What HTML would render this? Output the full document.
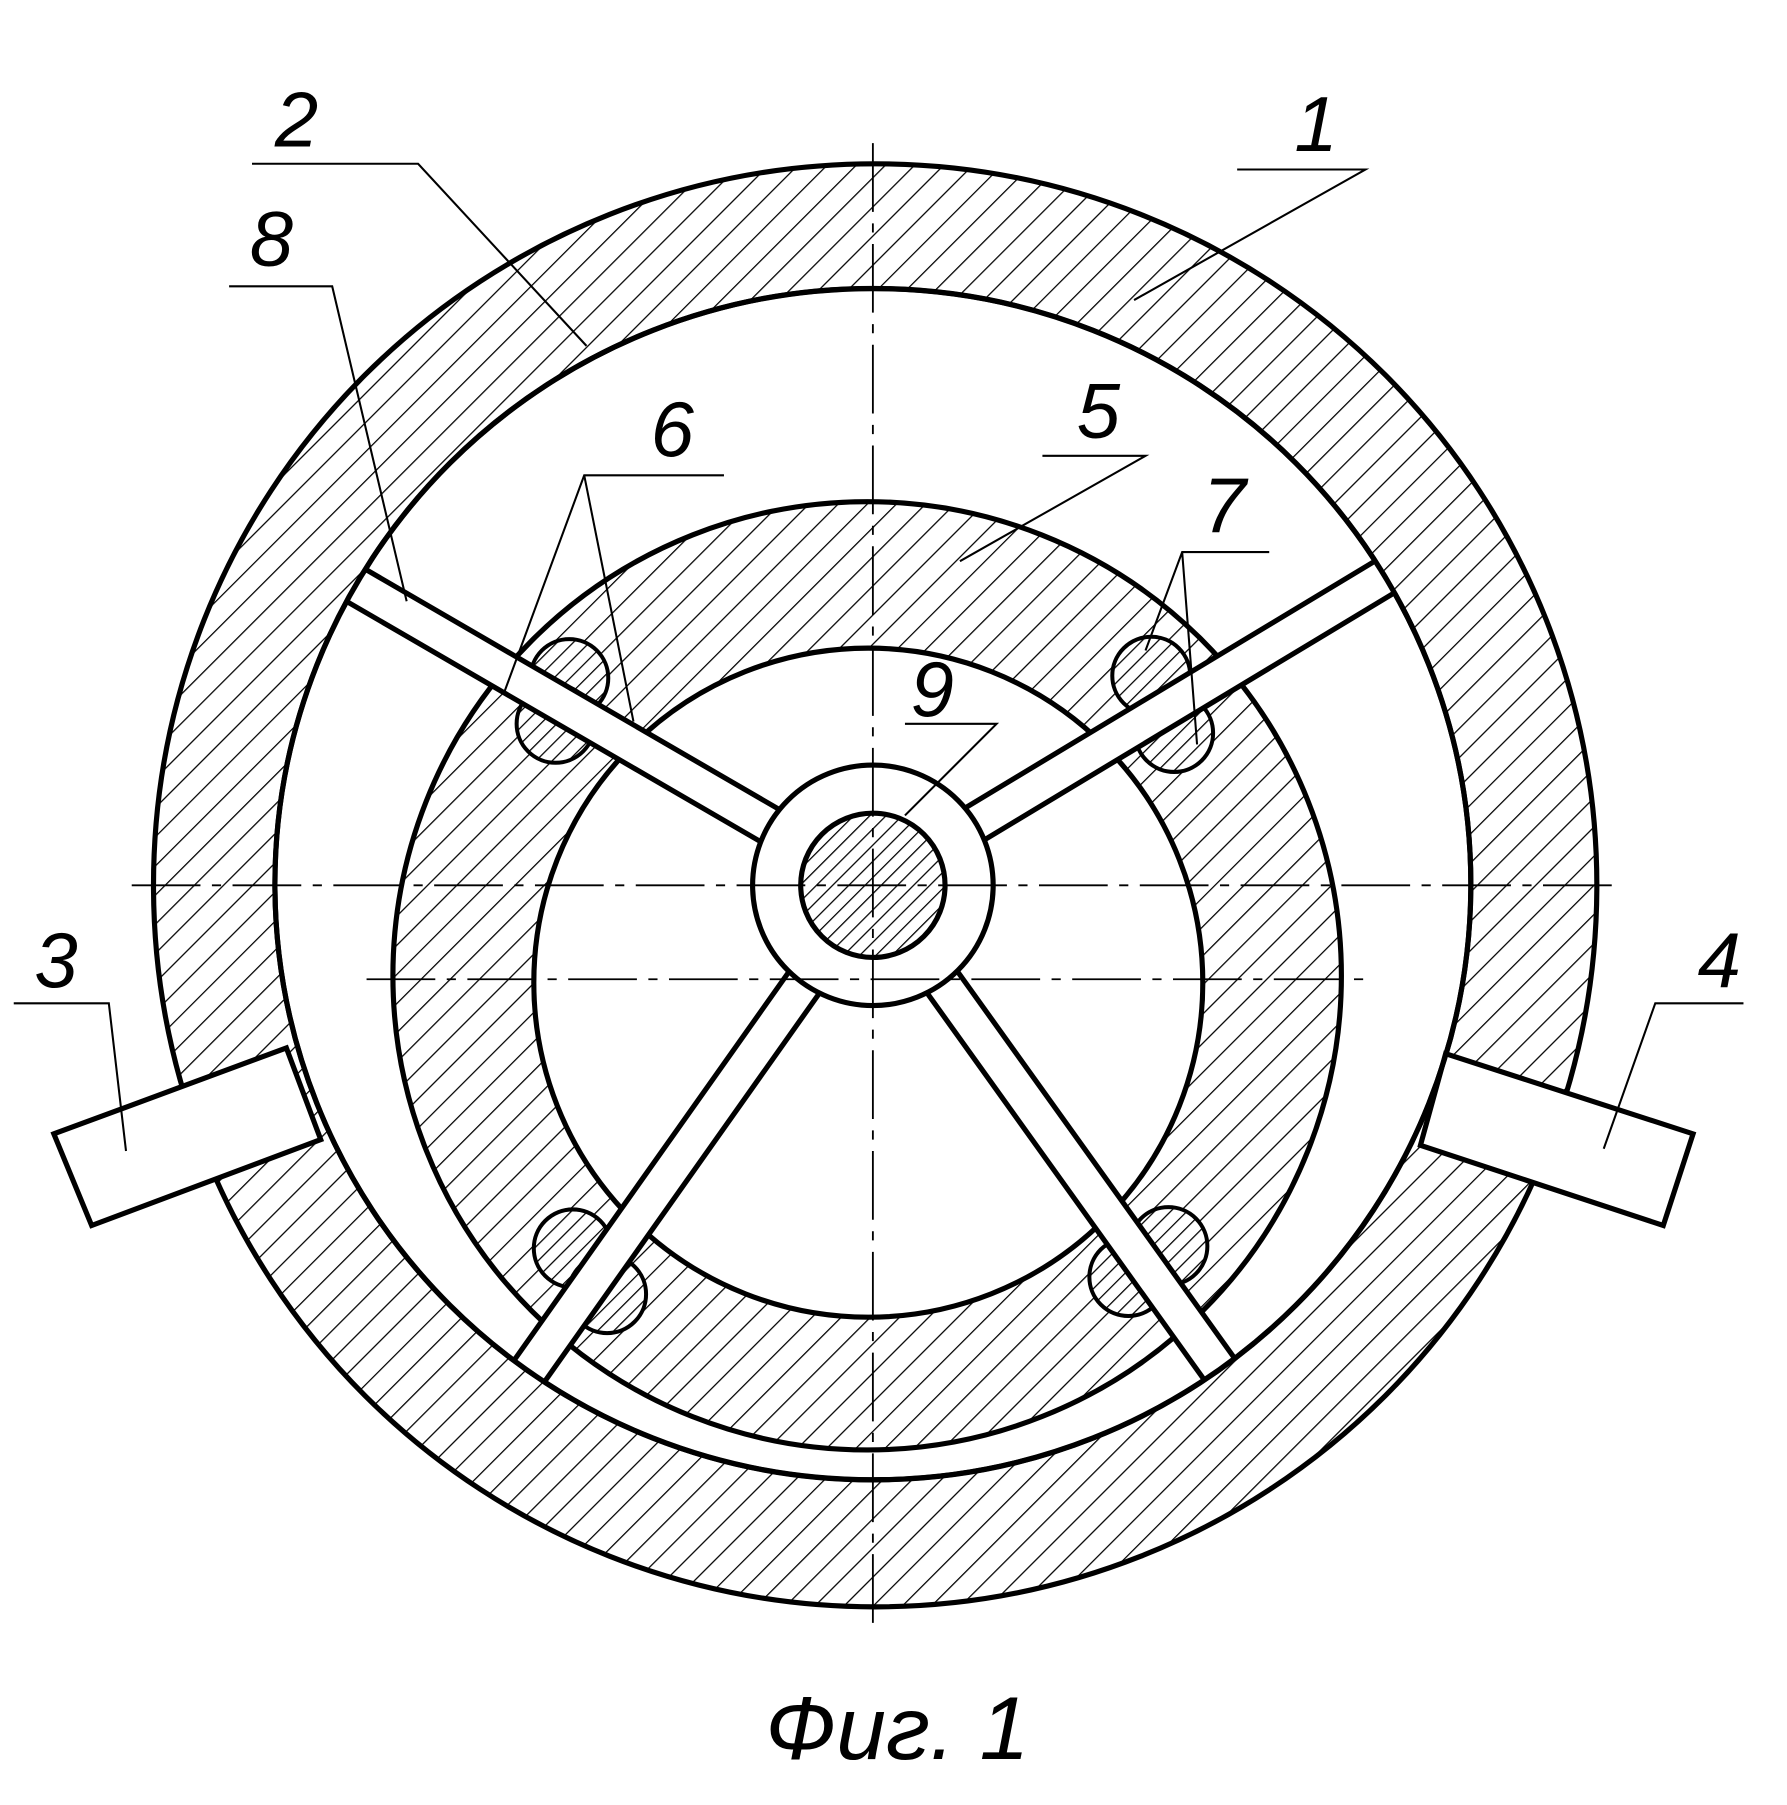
<!DOCTYPE html>
<html><head><meta charset="utf-8"><style>html,body{margin:0;padding:0;background:#fff}svg{display:block}</style></head>
<body>
<svg width="1787" height="1805" viewBox="0 0 1560 1576" preserveAspectRatio="none" xmlns="http://www.w3.org/2000/svg">
<defs>
<pattern id="h" patternUnits="userSpaceOnUse" width="18" height="18" patternTransform="rotate(45)">
<rect width="18" height="18" fill="#fff"/><line x1="0" y1="0" x2="0" y2="18" stroke="#000" stroke-width="2.2"/></pattern>
<pattern id="h2" patternUnits="userSpaceOnUse" width="10" height="10" patternTransform="rotate(45)">
<rect width="10" height="10" fill="#fff"/><line x1="0" y1="0" x2="0" y2="10" stroke="#000" stroke-width="2.2"/></pattern>
<clipPath id="bore"><ellipse cx="762" cy="772" rx="522" ry="520"/></clipPath>
</defs>
<g stroke="#000" stroke-width="4.5">
<path fill="url(#h)" fill-rule="evenodd" d="M134,773a630,630 0 1,0 1260,0a630,630 0 1,0 -1260,0Z M240,772a522,520 0 1,0 1044,0a522,520 0 1,0 -1044,0Z"/>
<polygon fill="#fff" points="47,990 250,915 280,995 80,1070"/>
<polygon fill="#fff" points="1262,920 1478,990 1452,1070 1240,1000"/>
<path fill="url(#h)" fill-rule="evenodd" d="M343,852a414,414 0 1,0 828,0a414,414 0 1,0 -828,0Z M466,858a292,292 0 1,0 584,0a292,292 0 1,0 -584,0Z"/>
<g fill="url(#h2)" stroke-width="3.5">
<circle cx="497" cy="592" r="34"/><circle cx="485" cy="632" r="34"/>
<circle cx="1005" cy="590" r="34"/><circle cx="1025" cy="640" r="34"/>
<circle cx="500" cy="1090" r="34"/><circle cx="530" cy="1130" r="34"/>
<circle cx="985" cy="1115" r="34"/><circle cx="1020" cy="1088" r="34"/>
</g>
</g>
<g clip-path="url(#bore)">
<g stroke="#000" stroke-width="37">
<line x1="762" y1="773" x2="290" y2="499"/><line x1="762" y1="773" x2="1225" y2="494"/>
<line x1="762" y1="773" x2="448" y2="1217"/><line x1="762" y1="773" x2="1075" y2="1210"/>
</g>
<g stroke="#fff" stroke-width="28">
<line x1="762" y1="773" x2="290" y2="499"/><line x1="762" y1="773" x2="1225" y2="494"/>
<line x1="762" y1="773" x2="448" y2="1217"/><line x1="762" y1="773" x2="1075" y2="1210"/>
</g>
</g>
<ellipse cx="762" cy="772" rx="522" ry="520" fill="none" stroke="#000" stroke-width="4.5"/>
<circle cx="762" cy="773" r="105" fill="#fff" stroke="#000" stroke-width="4.5"/>
<circle cx="762" cy="773" r="63" fill="url(#h2)" stroke="#000" stroke-width="4.5"/>
<g stroke="#000" stroke-width="1.6" stroke-dasharray="60,10,8,10" fill="none">
<line x1="762" y1="125" x2="762" y2="1420"/>
<line x1="115" y1="773" x2="1410" y2="773"/>
<line x1="320" y1="855" x2="1200" y2="855"/>
</g>
<g stroke="#000" stroke-width="1.8" fill="none">
<polyline points="220,143 365,143 512,302"/>
<polyline points="1080,148 1192,148 990,262"/>
<polyline points="200,250 290,250 355,525"/>
<polyline points="440,605 510,415 632,415"/>
<line x1="510" y1="415" x2="553" y2="630"/>
<polyline points="910,398 1000,398 838,490"/>
<polyline points="1000,568 1032,482 1108,482"/>
<line x1="1032" y1="482" x2="1045" y2="650"/>
<polyline points="790,632 870,632 790,712"/>
<polyline points="12,876 95,876 110,1005"/>
<polyline points="1522,876 1445,876 1400,1003"/>
</g>
<g font-family="Liberation Sans, sans-serif" font-style="italic" font-size="68" fill="#000">
<text x="240" y="128">2</text>
<text x="1130" y="132">1</text>
<text x="218" y="232">8</text>
<text x="568" y="398">6</text>
<text x="940" y="382">5</text>
<text x="1050" y="465">7</text>
<text x="795" y="625">9</text>
<text x="30" y="862">3</text>
<text x="1482" y="862">4</text>
<text x="668" y="1536" font-size="78">Фиг.  1</text>
</g>
</svg>
</body></html>
